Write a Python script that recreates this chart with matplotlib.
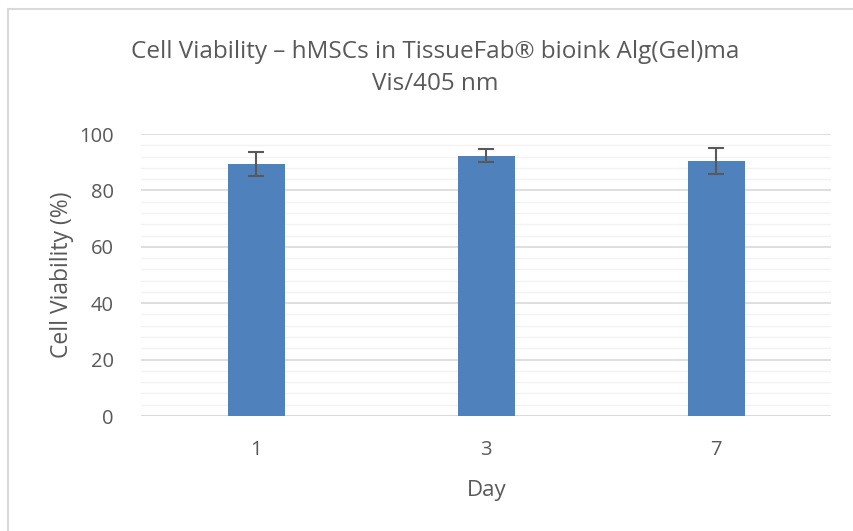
import matplotlib
matplotlib.use("Agg")
import matplotlib.pyplot as plt
from matplotlib.lines import Line2D
import numpy as np

days = ["1", "3", "7"]
viability = [89.4, 92.3, 90.3]
errors = [4.2, 2.3, 4.6]

plt.rcParams['font.family'] = ['Open Sans', 'DejaVu Sans']
gray = "#595959"

W, H = 854, 531
fig = plt.figure(figsize=(W / 100, H / 100), dpi=100)
ax = fig.add_axes([141.5 / W, 1 - 416 / H, (831 - 141.5) / W, (416 - 134) / H])

x = np.arange(len(days))
ax.bar(x, viability, width=0.248, color="#4F81BD", zorder=3)
ax.errorbar(x, viability, yerr=errors, fmt="none", ecolor=gray, elinewidth=1.5,
            capsize=6, capthick=1.5, zorder=4)

ax.set_xlim(-0.5, len(days) - 0.5)
ax.set_ylim(0, 100)
ax.set_yticks(np.arange(0, 101, 20))
ax.set_yticks(np.arange(0, 101, 4), minor=True)
ax.set_xticks(x)
ax.set_xticklabels(days)
ax.tick_params(axis="y", which="both", length=0, labelsize=14.5, labelcolor=gray, pad=20)
ax.tick_params(axis="x", which="both", length=0, labelsize=14.5, labelcolor=gray, pad=17)
ax.grid(axis="y", which="major", color="#D9D9D9", linewidth=1.2, zorder=0)
ax.grid(axis="y", which="minor", color="#F2F2F2", linewidth=1.0, zorder=0)
for s in ax.spines.values():
    s.set_visible(False)
ax.axhline(0, color="#D9D9D9", linewidth=1.2, zorder=2)

ax.set_ylabel("Cell Viability (%)", fontsize=16.5, color=gray, labelpad=4)
ax.set_xlabel("Day", fontsize=16, color=gray, labelpad=15)

fig.text(435 / W, 1 - 68 / H, "Cell Viability – hMSCs in TissueFab® bioink Alg(Gel)ma\nVis/405 nm",
         ha="center", va="center", fontsize=17.5, color=gray, linespacing=1.5)

fig.add_artist(Line2D([8 / W, 8 / W], [0, 1 - 9 / H], transform=fig.transFigure,
                      color="#D9D9D9", linewidth=1.5))
fig.add_artist(Line2D([8 / W, 1], [1 - 9 / H, 1 - 9 / H], transform=fig.transFigure,
                      color="#D9D9D9", linewidth=1.5))

fig.savefig("out.png", dpi=100)
